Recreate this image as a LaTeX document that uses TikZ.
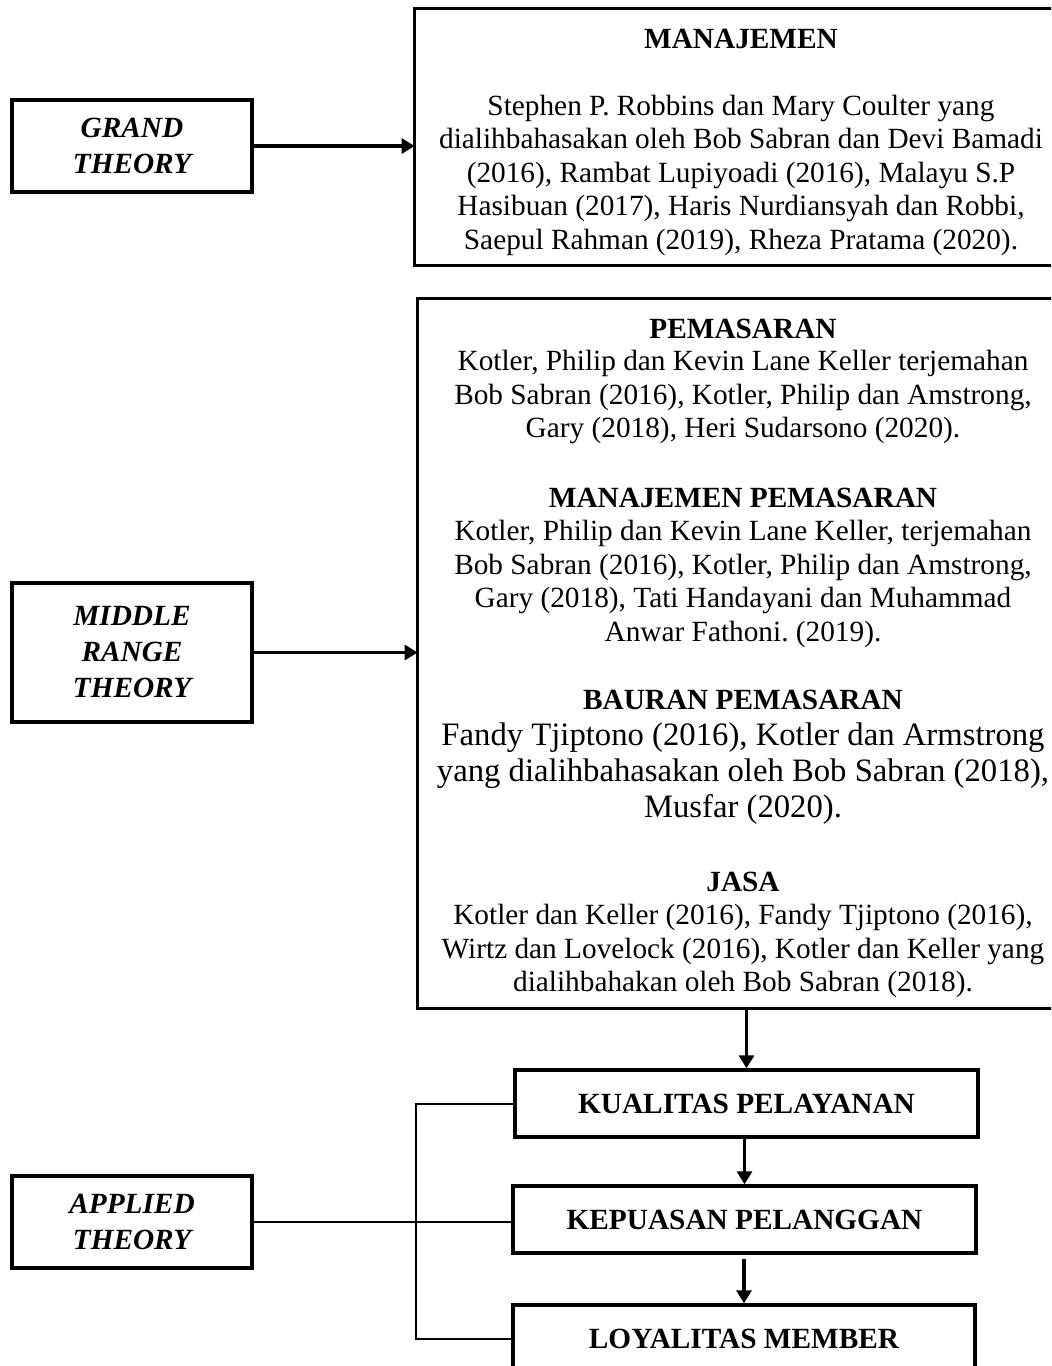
\documentclass[tikz,border=0pt]{standalone}
\usepackage{fontspec}
\setmainfont{Liberation Serif}
\usetikzlibrary{arrows.meta}
\begin{document}
\frenchspacing
\begin{tikzpicture}[x=0.5pt,y=-0.5pt,
  box/.style={draw, line width=1.7pt, rectangle, inner sep=0pt},
  openbox/.style={line width=1.7pt},
  body/.style={align=center, inner sep=0pt, font=\fontsize{14.65}{16.75}\selectfont},
  bigbody/.style={align=center, inner sep=0pt, font=\fontsize{16.35}{18}\selectfont},
  ttl/.style={inner sep=0pt, font=\fontsize{14.65}{16.75}\selectfont\bfseries},
  lefttxt/.style={box, align=center, minimum width=120pt, font=\fontsize{14.65}{18}\selectfont\bfseries\itshape},
  botbox/.style={box, minimum width=231.5pt, minimum height=33.5pt, font=\fontsize{14.65}{16.75}\selectfont\bfseries},
  arr/.style={-{Triangle[length=6.5pt,width=7.5pt]}, line width=1.7pt},
  thinline/.style={line width=1pt}]
\useasboundingbox (0,0) rectangle (1051,1366);
\clip (0,0) rectangle (1051,1366);

% left boxes
\node[lefttxt, minimum height=46pt] (grand) at (132,146) {GRAND\\THEORY};
\node[lefttxt, minimum height=69.5pt] (mrt) at (132,652.5) {MIDDLE\\RANGE\\THEORY};
\node[lefttxt, minimum height=46pt] (app) at (132,1222) {APPLIED\\THEORY};

% right big boxes (right side runs off the page)
\node[inner sep=0pt, minimum width=326.5pt, minimum height=128pt] (man) at (741.5,137) {};
\node[inner sep=0pt, minimum width=325pt, minimum height=354.5pt] (big) at (743,653.5) {};
\draw[openbox] ([xshift=20pt]man.north east) -- (man.north west) -- (man.south west) -- ([xshift=20pt]man.south east);
\draw[openbox] ([xshift=20pt]big.north east) -- (big.north west) -- (big.south west) -- ([xshift=20pt]big.south east);

% texts in manajemen box
\node[ttl] (t1) at (741,39) {MANAJEMEN};
\node[body] (b1) at (741,175) {Stephen P. Robbins dan Mary Coulter yang\\dialihbahasakan oleh Bob Sabran dan Devi Bamadi\\(2016), Rambat Lupiyoadi (2016), Malayu S.P\\Hasibuan (2017), Haris Nurdiansyah dan Robbi,\\Saepul Rahman (2019), Rheza Pratama (2020).};

% texts in big box
\node[ttl] (t2) at (743,329) {PEMASARAN};
\node[body] (b2) at (743,397) {Kotler, Philip dan Kevin Lane Keller terjemahan\\Bob Sabran (2016), Kotler, Philip dan Amstrong,\\Gary (2018), Heri Sudarsono (2020).};
\node[ttl] (t3) at (743,498) {MANAJEMEN PEMASARAN};
\node[body] (b3) at (743,584) {Kotler, Philip dan Kevin Lane Keller, terjemahan\\Bob Sabran (2016), Kotler, Philip dan Amstrong,\\Gary (2018), Tati Handayani dan Muhammad\\Anwar Fathoni. (2019).};
\node[ttl] (t4) at (743,700) {BAURAN PEMASARAN};
\node[bigbody] (b4) at (743,774) {Fandy Tjiptono (2016), Kotler dan Armstrong\\yang dialihbahasakan oleh Bob Sabran (2018),\\Musfar (2020).};
\node[ttl] (t5) at (743,882) {JASA};
\node[body] (b5) at (743,951) {Kotler dan Keller (2016), Fandy Tjiptono (2016),\\Wirtz dan Lovelock (2016), Kotler dan Keller yang\\dialihbahakan oleh Bob Sabran (2018).};

% bottom boxes
\node[botbox] (kual) at (746.5,1103.5) {KUALITAS PELAYANAN};
\node[botbox] (kep) at (744.5,1219.5) {KEPUASAN PELANGGAN};
\node[botbox, minimum width=231pt] (loy) at (744,1338.5) {LOYALITAS MEMBER};

% arrows
\draw[arr] (grand.east) -- (grand.east -| man.west);
\draw[arr] (mrt.east) -- (mrt.east -| big.west);
\draw[arr] (kual.north |- big.south) -- (kual.north);
\draw[arr] (kep.north |- kual.south) -- (kep.north);
\draw[arr] ([yshift=-2pt]loy.north |- kep.south) -- (loy.north);

% bracket
\coordinate (bx) at (416,1222);
\draw[thinline] (kual.west) -- (kual.west -| bx) -- (loy.west -| bx) -- (loy.west);
\draw[thinline] (app.east) -- (app.east -| kep.west);
\end{tikzpicture}
\end{document}
